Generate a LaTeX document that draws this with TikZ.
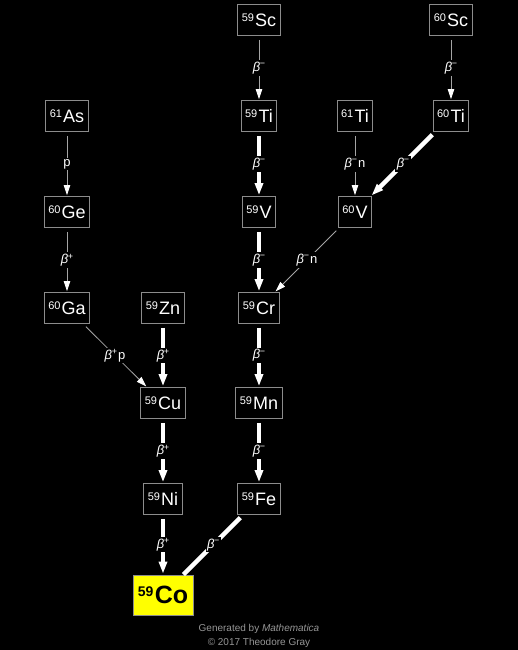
\documentclass[tikz,border=0pt]{standalone}
\usepackage{fontspec}
\setmainfont{Liberation Sans}
\usetikzlibrary{arrows.meta}
\definecolor{boxgray}{RGB}{140,140,140}
\definecolor{thingray}{RGB}{165,165,165}
\definecolor{footgray}{RGB}{150,150,150}
\definecolor{coyellow}{RGB}{255,255,0}
\newcommand\nucl[2]{\raisebox{5.3pt}{\fontsize{11}{10}\selectfont #1}\hspace{1.2pt}#2}
\newcommand\bmin{{\itshape β}\kern-0.3pt\raisebox{4.8pt}{\fontsize{9}{9}\selectfont −}}
\newcommand\bplus{{\itshape β}\kern-0.3pt\raisebox{4.5pt}{\fontsize{9}{9}\selectfont +}}
\begin{document}
\begin{tikzpicture}[x=1pt,y=-1pt,
  nuc/.style={draw=boxgray, line width=0.8pt, text=white, fill=black,
    minimum height=31pt, inner xsep=4pt, inner ysep=0pt,
    font=\fontsize{18}{18}\selectfont},
  thin/.style={draw=thingray, line width=0.8pt,
    -{Triangle[length=10pt,width=6.5pt,color=white]},
    shorten <=4pt, shorten >=1pt},
  thick/.style={draw=white, line width=4.5pt,
    -{Triangle[length=12pt,width=8pt,color=white]},
    shorten <=4pt, shorten >=1pt},
  thicknohead/.style={draw=white, line width=4.5pt, shorten <=4pt},
  lbl/.style={fill=black, text=white, inner sep=1.5pt,
    font=\fontsize{13}{13}\selectfont},
  foot/.style={text=footgray, font=\fontsize{10}{10}\selectfont, inner sep=0pt}]
\fill[black] (0,0) rectangle (518,650);
\useasboundingbox (0,0) rectangle (518,650);

\node[nuc] (Sc59) at (259,20) {\nucl{59}{Sc}};
\node[nuc] (Sc60) at (451,20) {\nucl{60}{Sc}};
\node[nuc] (As61) at (67,116) {\nucl{61}{As}};
\node[nuc] (Ti59) at (259,116) {\nucl{59}{Ti}};
\node[nuc] (Ti61) at (355,116) {\nucl{61}{Ti}};
\node[nuc] (Ti60) at (451,116) {\nucl{60}{Ti}};
\node[nuc] (Ge60) at (67,212) {\nucl{60}{Ge}};
\node[nuc] (V59) at (259,212) {\nucl{59}{V}};
\node[nuc] (V60) at (355,212) {\nucl{60}{V}};
\node[nuc] (Ga60) at (67,308) {\nucl{60}{Ga}};
\node[nuc] (Zn59) at (163,308) {\nucl{59}{Zn}};
\node[nuc] (Cr59) at (259,308) {\nucl{59}{Cr}};
\node[nuc] (Cu59) at (163,403) {\nucl{59}{Cu}};
\node[nuc] (Mn59) at (259,403) {\nucl{59}{Mn}};
\node[nuc] (Ni59) at (163,499) {\nucl{59}{Ni}};
\node[nuc] (Fe59) at (259,499) {\nucl{59}{Fe}};
\node[draw=boxgray, line width=0.8pt, fill=coyellow, text=black,
  minimum width=60pt, minimum height=40pt, inner sep=0pt,
  font=\fontsize{25}{25}\selectfont\bfseries] (Co59) at (163,595)
  {\raisebox{7.5pt}{\fontsize{14}{14}\selectfont\bfseries 59}\hspace{1.5pt}Co};

\draw[thin] (Sc59) -- node[lbl] {\bmin} (Ti59);
\draw[thin] (Sc60) -- node[lbl] {\bmin} (Ti60);
\draw[thin] (As61) -- node[lbl] {p} (Ge60);
\draw[thin] (Ge60) -- node[lbl] {\bplus} (Ga60);
\draw[thin] (Ti61) -- node[lbl] {\bmin\kern1pt n} (V60);
\draw[thin] (V60) -- node[lbl] {\bmin\kern1pt n} (Cr59);
\draw[thin] (Ga60) -- node[lbl] {\bplus\kern1pt p} (Cu59);

\draw[thick] (Ti59) -- node[lbl] {\bmin} (V59);
\draw[thick] (V59) -- node[lbl] {\bmin} (Cr59);
\draw[thick] (Cr59) -- node[lbl] {\bmin} (Mn59);
\draw[thick] (Mn59) -- node[lbl] {\bmin} (Fe59);
\draw[thick] (Ti60) -- node[lbl] {\bmin} (V60);
\draw[thick] (Zn59) -- node[lbl] {\bplus} (Cu59);
\draw[thick] (Cu59) -- node[lbl] {\bplus} (Ni59);
\draw[thick] (Ni59) -- node[lbl] {\bplus} (Co59);
\draw[thicknohead] (Fe59) -- node[lbl] {\bmin} (Co59);

\node[foot] (gen) at (259,629) {Generated by \textit{Mathematica}};
\node[foot] (copy) at (259,643) {© 2017 Theodore Gray};
\end{tikzpicture}
\end{document}
